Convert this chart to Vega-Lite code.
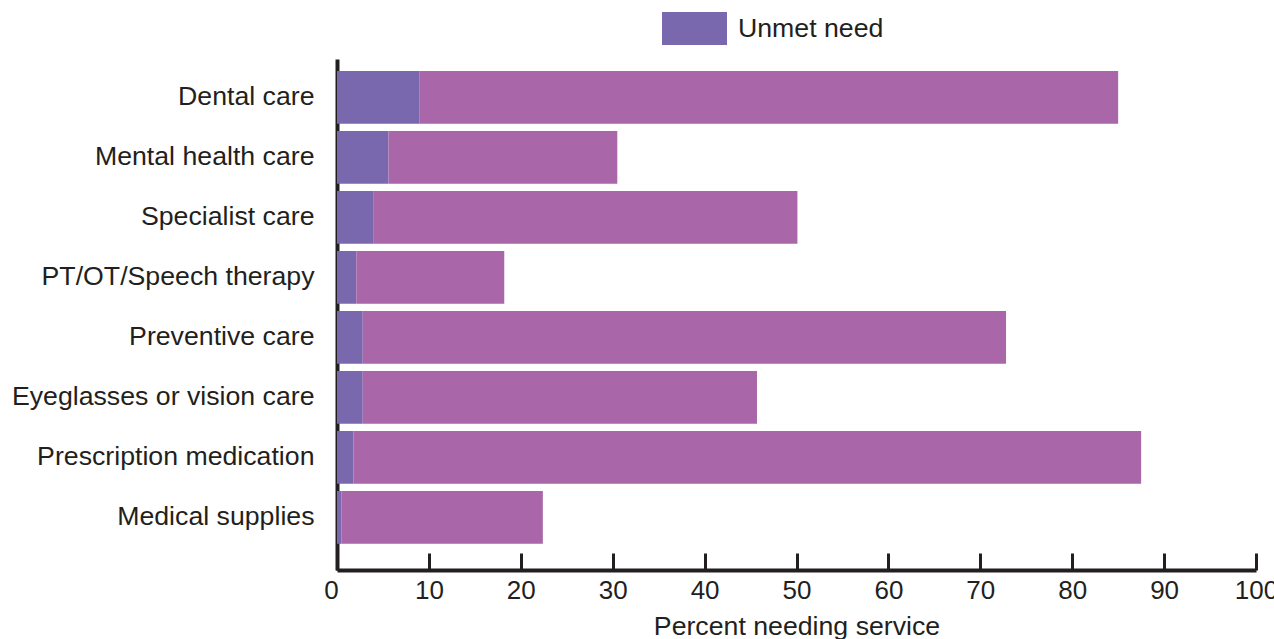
{
  "$schema": "https://vega.github.io/schema/vega-lite/v6.json",
  "width": 919,
  "height": 511,
  "autosize": {"type": "none"},
  "padding": {"left": 337, "top": 59, "right": 18, "bottom": 69},
  "background": "white",
  "config": {
    "view": {"stroke": null},
    "font": "Liberation Sans",
    "axis": {"labelColor": "#231f20", "titleColor": "#231f20", "domainColor": "#231f20", "tickColor": "#231f20"}
  },
  "data": {
    "values": [
      {"service": "Dental care", "type": "Unmet need", "value": 9.0},
      {"service": "Dental care", "type": "Met need", "value": 76.0},
      {"service": "Mental health care", "type": "Unmet need", "value": 5.6},
      {"service": "Mental health care", "type": "Met need", "value": 24.9},
      {"service": "Specialist care", "type": "Unmet need", "value": 4.0},
      {"service": "Specialist care", "type": "Met need", "value": 46.1},
      {"service": "PT/OT/Speech therapy", "type": "Unmet need", "value": 2.1},
      {"service": "PT/OT/Speech therapy", "type": "Met need", "value": 16.1},
      {"service": "Preventive care", "type": "Unmet need", "value": 2.8},
      {"service": "Preventive care", "type": "Met need", "value": 70.0},
      {"service": "Eyeglasses or vision care", "type": "Unmet need", "value": 2.8},
      {"service": "Eyeglasses or vision care", "type": "Met need", "value": 42.9},
      {"service": "Prescription medication", "type": "Unmet need", "value": 1.8},
      {"service": "Prescription medication", "type": "Met need", "value": 85.7},
      {"service": "Medical supplies", "type": "Unmet need", "value": 0.5},
      {"service": "Medical supplies", "type": "Met need", "value": 21.9}
    ]
  },
  "mark": {"type": "bar"},
  "encoding": {
    "y": {
      "field": "service",
      "type": "nominal",
      "sort": ["Dental care", "Mental health care", "Specialist care", "PT/OT/Speech therapy", "Preventive care", "Eyeglasses or vision care", "Prescription medication", "Medical supplies"],
      "scale": {"paddingInner": 0.12, "paddingOuter": 0.318, "align": 0.314},
      "axis": {
        "title": null,
        "ticks": false,
        "tickSize": 0,
        "labelFontSize": 26.7,
        "labelPadding": 23,
        "domainWidth": 4,
        "labelLimit": 400
      }
    },
    "x": {
      "field": "value",
      "type": "quantitative",
      "stack": "zero",
      "scale": {"domain": [0, 100], "nice": false},
      "axis": {
        "title": "Percent needing service",
        "titleFontSize": 26.7,
        "titleFontWeight": "normal",
        "titlePadding": 10,
        "values": [0, 10, 20, 30, 40, 50, 60, 70, 80, 90, 100],
        "grid": false,
        "tickSize": -17,
        "tickWidth": 3,
        "domainWidth": 4,
        "labelFontSize": 26,
        "labelPadding": 24,
        "labelFlush": false,
        "labelOffset": {"condition": {"test": "datum.value == 0", "value": -6}, "value": 0}
      }
    },
    "color": {
      "field": "type",
      "type": "nominal",
      "scale": {"domain": ["Unmet need", "Met need"], "range": ["#7968ad", "#a967a9"]},
      "legend": {
        "title": null,
        "values": ["Unmet need"],
        "orient": "none",
        "legendX": 325,
        "legendY": -63,
        "symbolType": "M-1,-0.508H1V0.508H-1Z",
        "symbolSize": 4225,
        "symbolStrokeWidth": 0,
        "labelFontSize": 26.7,
        "labelColor": "#231f20",
        "labelOffset": 11
      }
    },
    "order": {"field": "type", "sort": "descending"}
  }
}
